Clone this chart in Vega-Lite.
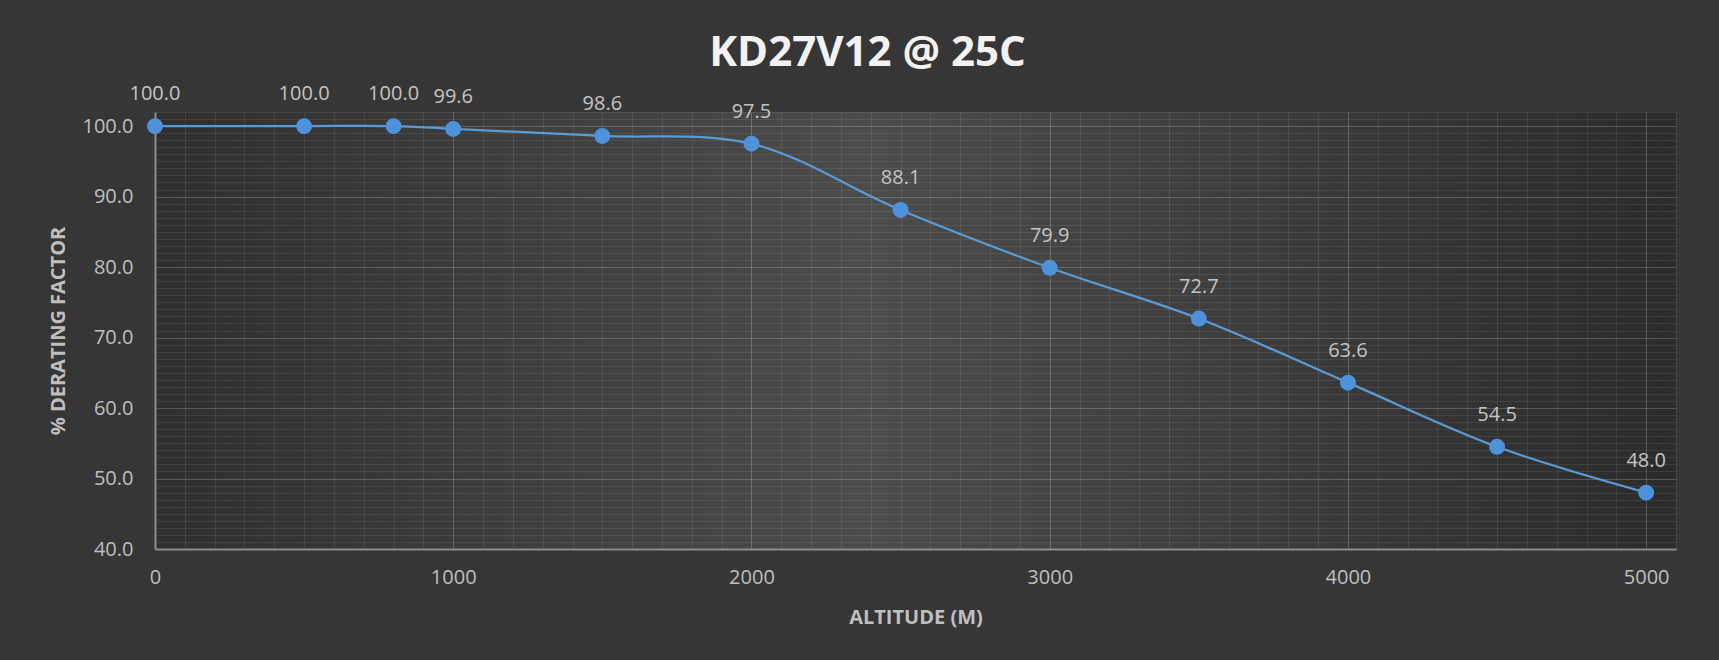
{
  "$schema": "https://vega.github.io/schema/vega-lite/v6.json",
  "width": 1521,
  "height": 437,
  "autosize": {"type": "none"},
  "padding": {"left": 155, "top": 112, "right": 43, "bottom": 111},
  "background": "#363636",
  "config": {
    "view": {
      "stroke": null,
      "fill": {
        "gradient": "linear",
        "x1": 0, "y1": 0, "x2": 1, "y2": 0,
        "stops": [
          {"offset": 0, "color": "#2f2f2f"},
          {"offset": 0.47, "color": "#4c4c4c"},
          {"offset": 1, "color": "#2b2b2b"}
        ]
      }
    },
    "font": "Open Sans"
  },
  "title": {
    "text": "KD27V12 @ 25C",
    "font": "Open Sans",
    "fontSize": 42,
    "fontWeight": "bold",
    "color": "#f2f2f2",
    "anchor": "middle",
    "dx": -48,
    "baseline": "alphabetic",
    "offset": -24
  },
  "data": {
    "values": [
      {"altitude": 0, "factor": 100.0},
      {"altitude": 500, "factor": 100.0},
      {"altitude": 800, "factor": 100.0},
      {"altitude": 1000, "factor": 99.6},
      {"altitude": 1500, "factor": 98.6},
      {"altitude": 2000, "factor": 97.5},
      {"altitude": 2500, "factor": 88.1},
      {"altitude": 3000, "factor": 79.9},
      {"altitude": 3500, "factor": 72.7},
      {"altitude": 4000, "factor": 63.6},
      {"altitude": 4500, "factor": 54.5},
      {"altitude": 5000, "factor": 48.0}
    ]
  },
  "encoding": {
    "x": {
      "field": "altitude",
      "type": "quantitative",
      "scale": {"domain": [0, 5100], "nice": false, "zero": false},
      "axis": {
        "title": "ALTITUDE (M)",
        "values": [0,100,200,300,400,500,600,700,800,900,1000,1100,1200,1300,1400,1500,1600,1700,1800,1900,2000,2100,2200,2300,2400,2500,2600,2700,2800,2900,3000,3100,3200,3300,3400,3500,3600,3700,3800,3900,4000,4100,4200,4300,4400,4500,4600,4700,4800,4900,5000,5100],
        "format": "d",
        "labelExpr": "datum.value % 1000 === 0 ? datum.label : ''",
        "labelOverlap": false,
        "labelBound": false,
        "labelFlush": false,
        "ticks": false,
        "labelFontSize": 20,
        "labelColor": "#bfbfbf",
        "labelPadding": 18,
        "domainColor": "#8c8c8c",
        "domainWidth": 2,
        "grid": true,
        "gridColor": "#ffffff",
        "gridOpacity": {"condition": {"test": "datum.value % 1000 === 0", "value": 0.2}, "value": 0.08},
        "titleFontSize": 20,
        "titleFontWeight": "bold",
        "titleColor": "#bfbfbf",
        "titlePadding": 20
      }
    },
    "y": {
      "field": "factor",
      "type": "quantitative",
      "scale": {"domain": [40, 102], "nice": false, "zero": false},
      "axis": {
        "title": "% DERATING FACTOR",
        "values": [40,41,42,43,44,45,46,47,48,49,50,51,52,53,54,55,56,57,58,59,60,61,62,63,64,65,66,67,68,69,70,71,72,73,74,75,76,77,78,79,80,81,82,83,84,85,86,87,88,89,90,91,92,93,94,95,96,97,98,99,100,101,102],
        "labelExpr": "datum.value % 10 === 0 ? format(datum.value, '.1f') : ''",
        "labelOverlap": false,
        "labelBound": false,
        "labelFlush": false,
        "ticks": false,
        "labelFontSize": 20,
        "labelColor": "#bfbfbf",
        "labelPadding": 22,
        "domainColor": "#8c8c8c",
        "domainWidth": 2,
        "grid": true,
        "gridColor": "#ffffff",
        "gridOpacity": {"condition": {"test": "datum.value % 10 === 0", "value": 0.2}, "value": 0.08},
        "titleFontSize": 20,
        "titleFontWeight": "bold",
        "titleColor": "#bfbfbf",
        "titlePadding": 14
      }
    }
  },
  "layer": [
    {"mark": {"type": "line", "interpolate": "catmull-rom", "color": "#5b9bd5", "strokeWidth": 2.25}},
    {"mark": {"type": "point", "filled": true, "size": 254, "color": "#4d92da", "opacity": 1}},
    {
      "mark": {"type": "text", "dy": -26, "baseline": "alphabetic", "fontSize": 20, "color": "#c4c4c4"},
      "encoding": {"text": {"field": "factor", "type": "quantitative", "format": ".1f"}}
    }
  ]
}
